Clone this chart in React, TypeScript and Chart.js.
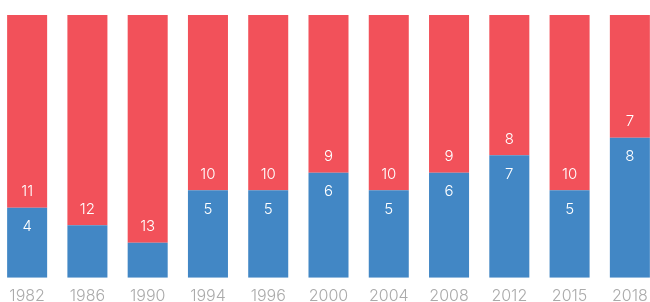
import React, { useEffect, useRef } from "react";
import { Chart, registerables } from "chart.js";

Chart.register(...registerables);

const categories = ["1982", "1986", "1990", "1994", "1996", "2000", "2004", "2008", "2012", "2015", "2018"];
const blueValues = [4, 3, 2, 5, 5, 6, 5, 6, 7, 5, 8];
const redValues = [11, 12, 13, 10, 10, 9, 10, 9, 8, 10, 7];

const BLUE = "#4287C5";
const RED = "#F2515A";
const FONT = "Inter, 'Open Sans', sans-serif";

const labelPlugin = {
  id: "segLabels",
  afterDatasetsDraw(chart: any) {
    const ctx = chart.ctx;
    ctx.save();
    ctx.fillStyle = "#ffffff";
    ctx.font = `300 15px ${FONT}`;
    ctx.textAlign = "center";
    ctx.textBaseline = "middle";
    chart.data.datasets.forEach((ds: any, di: number) => {
      const meta = chart.getDatasetMeta(di);
      meta.data.forEach((bar: any, i: number) => {
        const v = ds.data[i];
        if (v < 4) return;
        const top = Math.min(bar.y, bar.base);
        const bottom = Math.max(bar.y, bar.base);
        const y = di === 0 ? top + 19 : bottom - 16;
        ctx.fillText(String(v), bar.x, y);
      });
    });
    ctx.restore();
  },
};

export default function App() {
  const ref = useRef<HTMLCanvasElement | null>(null);
  useEffect(() => {
    document.body.style.margin = "0";
    const chart = new Chart(ref.current!, {
      type: "bar",
      data: {
        labels: categories,
        datasets: [
          { label: "A", data: blueValues, backgroundColor: BLUE, borderWidth: 0, categoryPercentage: 1, barPercentage: 0.664 },
          { label: "B", data: redValues, backgroundColor: RED, borderWidth: 0, categoryPercentage: 1, barPercentage: 0.664 },
        ],
      },
      options: {
        animation: false,
        responsive: false,
        maintainAspectRatio: false,
        layout: { padding: { top: 15, left: 0, right: 0, bottom: 0 } },
        plugins: { legend: { display: false }, tooltip: { enabled: false } },
        scales: {
          x: {
            stacked: true,
            grid: { display: false, drawTicks: false },
            border: { display: false },
            ticks: { color: "#ABABAB", font: { family: FONT, size: 16, weight: 300 as any }, padding: 9, maxRotation: 0, autoSkip: false },
          },
          y: { stacked: true, display: false, min: 0, max: 15 },
        },
      },
      plugins: [labelPlugin],
    });
    return () => chart.destroy();
  }, []);
  return (
    <div style={{ position: "relative", width: 650, height: 302, overflow: "hidden" }}>
      <canvas ref={ref} width={663} height={315} style={{ position: "absolute", left: -3, top: 0, width: 663, height: 315 }} />
    </div>
  );
}
